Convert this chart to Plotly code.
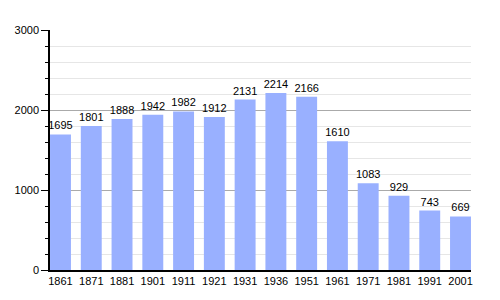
import plotly.graph_objects as go

years = ["1861", "1871", "1881", "1901", "1911", "1921", "1931", "1936", "1951", "1961", "1971", "1981", "1991", "2001"]
population = [1695, 1801, 1888, 1942, 1982, 1912, 2131, 2214, 2166, 1610, 1083, 929, 743, 669]

fig = go.Figure(go.Bar(
    x=years, y=population,
    marker=dict(color="#99b0ff", line=dict(width=0)),
    text=[str(v) for v in population],
    textposition="outside",
    constraintext="none",
    textfont=dict(size=11, color="black"),
    cliponaxis=False,
))

fig.update_layout(
    width=500, height=300,
    margin=dict(l=50, r=29, t=30, b=30),
    paper_bgcolor="white", plot_bgcolor="white",
    font=dict(family="Liberation Sans, Arial, sans-serif", size=11, color="black"),
    bargap=0.32,
    showlegend=False,
    xaxis=dict(type="category", range=[-0.341, 13.341], showgrid=False,
               showline=True, linecolor="black", linewidth=1.5, ticks="",
               tickfont=dict(size=11)),
    yaxis=dict(range=[0, 3000], tickvals=[0, 1000, 2000, 3000], showgrid=True,
               gridcolor="#aaaaaa", gridwidth=1, showline=True, linecolor="black",
               linewidth=1.5, ticks="outside", ticklen=7, tickcolor="black",
               zeroline=False, tickfont=dict(size=11),
               minor=dict(dtick=200, ticklen=3, ticks="outside", tickcolor="black",
                          showgrid=True, gridcolor="#e6e6e6", gridwidth=1)),
)

fig.write_html("out.html")
